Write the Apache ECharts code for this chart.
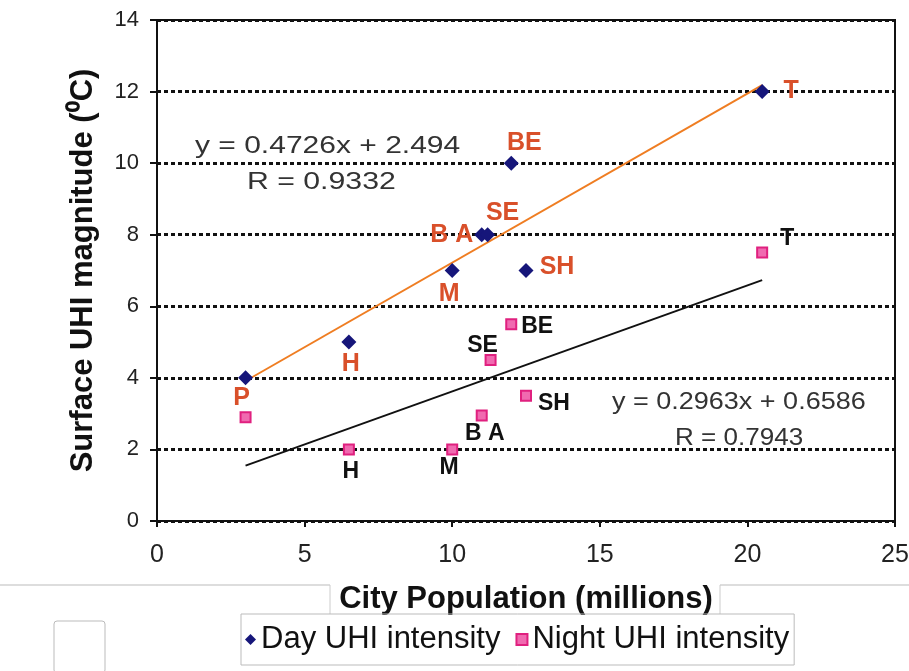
<!DOCTYPE html>
<html>
<head>
<meta charset="utf-8">
<script src="https://cdn.jsdelivr.net/npm/echarts@6/dist/echarts.min.js"></script>
<style>html,body{margin:0;padding:0;background:#fff}#c{width:909px;height:671px}</style>
</head>
<body>
<div id="c"></div>
<script>
const cities = ['P', 'H', 'M', 'BA', 'SE', 'BE', 'SH', 'T'];
const dayPop = [3, 6.5, 10, 11, 11.2, 12, 12.5, 20.5];
const dayUHI = [4, 5, 7, 8, 8, 10, 7, 12];
const nightPop = [3, 6.5, 10, 11, 11.3, 12, 12.5, 20.5];
const nightUHI = [2.9, 2, 2, 2.95, 4.5, 5.5, 3.5, 7.5];
const nightLabels = ['', 'H', 'M', 'BA', 'SE', 'BE', 'SH', 'T'];
const dayTrendX = [3, 20.5];
const dayTrendY = [3.912, 12.18];
const nightTrendX = [3, 20.5];
const nightTrendY = [1.547, 6.73];
const xTicks = [0, 5, 10, 15, 20, 25];
const yTicks = [0, 2, 4, 6, 8, 10, 12, 14];
const dayEq = ['y = 0.4726x + 2.494', 'R = 0.9332'];
const nightEq = ['y = 0.2963x + 0.6586', 'R = 0.7943'];

// label offsets (style only)
const dayOff = {P:[-4,20], H:[2,22], M:[-3,24], BA:[-30,0], SE:[15,-22], BE:[13,-20], SH:[31,-3], T:[29,0]};
const nightOff = {H:[2,22], M:[-3,18], BA:[3,18], SE:[-8,-14], BE:[26,2], SH:[28,8], T:[25,-14]};

const FONT = '"Liberation Sans", Arial, sans-serif';
const dayColor = '#d9502a';

const dayData = dayPop.map((x, i) => ({
  value: [x, dayUHI[i]],
  label: {show: true, formatter: cities[i] === 'BA' ? 'B A' : cities[i], position: 'inside', offset: dayOff[cities[i]],
    color: dayColor, fontWeight: 'bold', fontSize: 25, fontFamily: FONT, opacity: 1}
}));
const nightData = nightPop.map((x, i) => ({
  value: [x, nightUHI[i]],
  label: {show: !!nightLabels[i], formatter: nightLabels[i] === 'BA' ? 'B A' : nightLabels[i], position: 'inside',
    offset: nightOff[nightLabels[i]] || [0,0], color: '#111', fontWeight: 'bold', fontSize: 23, fontFamily: FONT, opacity: 1}
}));

function eqText(txt, x, y, sx) {
  return {type: 'text', x: x, y: y, scaleX: sx, z: 10,
    style: {text: txt, fill: '#333', font: '24px ' + FONT, align: 'left', verticalAlign: 'middle'}};
}

const chart = echarts.init(document.getElementById('c'), null, {renderer: 'canvas'});
chart.setOption({
  animation: false,
  backgroundColor: '#fff',
  grid: {left: 157, right: 14, top: 20, bottom: 150, show: true, borderColor: '#111', borderWidth: 2,
    backgroundColor: 'transparent', containLabel: false, outerBoundsMode: 'none'},
  xAxis: {
    type: 'value', min: xTicks[0], max: xTicks[xTicks.length - 1], interval: 5,
    name: 'City Population (millions)', nameLocation: 'middle', nameGap: 63,
    nameTextStyle: {fontSize: 31, fontWeight: 'bold', color: '#111', fontFamily: FONT},
    axisLine: {lineStyle: {color: '#111', width: 2}},
    axisTick: {show: true, inside: false, length: 6, lineStyle: {color: '#111', width: 2}},
    axisLabel: {fontSize: 25, color: '#222', margin: 22, fontFamily: FONT},
    splitLine: {show: false}
  },
  yAxis: {
    type: 'value', min: yTicks[0], max: yTicks[yTicks.length - 1], interval: 2,
    name: 'Surface UHI magnitude (\u2070C)', nameLocation: 'middle', nameGap: 58,
    nameTextStyle: {fontSize: 31, fontWeight: 'bold', color: '#111', fontFamily: FONT},
    axisLine: {show: true, lineStyle: {color: '#111', width: 2}},
    axisTick: {show: true, inside: false, length: 7, lineStyle: {color: '#111', width: 2}},
    axisLabel: {fontSize: 22, color: '#222', margin: 18, fontFamily: FONT},
    splitLine: {show: true, lineStyle: {color: '#111', width: 3, type: [4, 3]}}
  },
  legend: {
    left: 241, top: 614, orient: 'horizontal',
    borderColor: '#bbb', borderWidth: 1, borderRadius: 0, padding: [10, 5, 10, 4],
    itemGap: 15, itemWidth: 11, itemHeight: 11,
    textStyle: {fontSize: 31, color: '#111', fontFamily: FONT},
    data: [
      {name: 'Day UHI intensity', icon: 'diamond'},
      {name: 'Night UHI intensity', icon: 'rect'}
    ]
  },
  graphic: [
    eqText(dayEq[0], 195, 146, 1.25),
    eqText(dayEq[1], 247, 182, 1.26),
    eqText(nightEq[0], 612, 402, 1.125),
    eqText(nightEq[1], 675, 438, 1.085),
    {type: 'line', shape: {x1: 0, y1: 585, x2: 330, y2: 585}, style: {stroke: '#bbb', lineWidth: 1}},
    {type: 'line', shape: {x1: 720, y1: 585, x2: 909, y2: 585}, style: {stroke: '#bbb', lineWidth: 1}},
    {type: 'line', shape: {x1: 330, y1: 585, x2: 330, y2: 614}, style: {stroke: '#ccc', lineWidth: 1}},
    {type: 'line', shape: {x1: 720, y1: 585, x2: 720, y2: 614}, style: {stroke: '#ccc', lineWidth: 1}},
    {type: 'rect', shape: {x: 54, y: 621, width: 51, height: 52, r: 3}, style: {stroke: '#bbb', fill: '#fff', lineWidth: 1}}
  ],
  series: [
    {type: 'line', name: 'dayTrend', data: dayTrendX.map((x, i) => [x, dayTrendY[i]]), symbol: 'none',
      lineStyle: {color: '#ef7d22', width: 2}, z: 2, silent: true},
    {type: 'line', name: 'nightTrend', data: nightTrendX.map((x, i) => [x, nightTrendY[i]]), symbol: 'none',
      lineStyle: {color: '#111', width: 2}, z: 2, silent: true},
    {type: 'scatter', name: 'Night UHI intensity', data: nightData, symbol: 'rect', symbolSize: 10,
      itemStyle: {color: '#f06ab0', borderColor: '#e0207f', borderWidth: 2, opacity: 1}, z: 4},
    {type: 'scatter', name: 'Day UHI intensity', data: dayData, symbol: 'diamond', symbolSize: 15,
      itemStyle: {color: '#16167a', opacity: 1}, z: 5}
  ]
});
</script>
</body>
</html>
